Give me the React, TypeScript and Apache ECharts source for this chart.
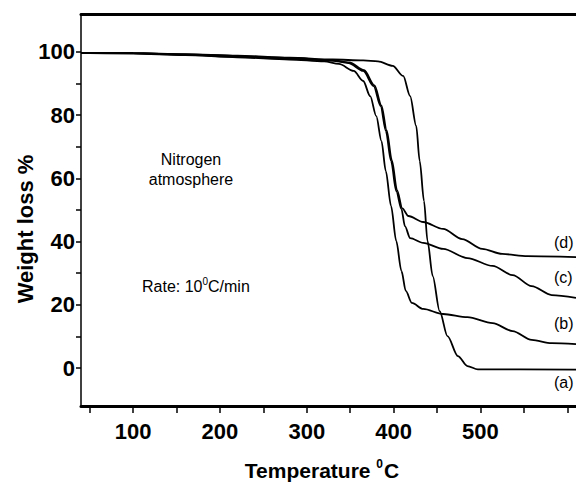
import React, { useEffect, useRef } from "react";
import * as echarts from "echarts";

// Temperature (°C) and weight (%), per curve
const tempA = [40, 100, 160, 220, 280, 330, 365, 382, 399, 411, 419, 426, 430, 435, 439, 445, 453, 462, 474, 485, 497, 610];
const weightA = [99.7, 99.6, 99.3, 98.8, 98.2, 97.6, 97.3, 97, 95.6, 92.4, 86, 76.6, 65.5, 52.8, 40.2, 29.1, 18, 10.1, 3.8, 0.6, -0.4, -0.5];

const tempB = [40, 100, 160, 220, 280, 320, 337, 354, 365, 373, 380, 386, 391, 397, 403, 409, 414, 421, 434, 457, 485, 514, 537, 559, 582, 610];
const weightB = [99.7, 99.5, 99, 98.3, 97.6, 97, 96.2, 94, 90.8, 86, 79.7, 71.8, 62.3, 51.3, 40.2, 30.7, 24.4, 20.6, 18.7, 17.1, 16.1, 14.2, 11.7, 8.9, 7.9, 7.6];

const tempC = [40, 100, 160, 220, 280, 330, 348, 365, 377, 385, 391, 397, 403, 409, 413, 419, 434, 457, 485, 514, 537, 559, 582, 610];
const weightC = [99.7, 99.6, 99.1, 98.5, 97.9, 97.2, 96.5, 94, 89.2, 82.9, 75, 65.5, 56, 50.3, 44.9, 41.1, 39.6, 37.7, 34.8, 32.3, 29.4, 25.9, 23.1, 22.2];

const tempD = [40, 100, 160, 220, 280, 330, 349, 366, 378, 386, 392, 398, 404, 410, 417, 434, 457, 479, 502, 525, 554, 610];
const weightD = [99.7, 99.6, 99.2, 98.7, 98.1, 97.4, 96.7, 94.2, 89.4, 83, 75.2, 65.7, 56.2, 50.5, 48.1, 46.2, 44, 40.8, 37.7, 36.1, 35.4, 35.1];

const curveNames = ["(a)", "(b)", "(c)", "(d)"];

const xLabelValues = [100, 200, 300, 400, 500];
const xTickValues = [50, 100, 150, 200, 250, 300, 350, 400, 450, 500, 550, 600];
const yLabelValues = [0, 20, 40, 60, 80, 100];
const yTickValues = [0, 10, 20, 30, 40, 50, 60, 70, 80, 90, 100];

const FONT = "'Liberation Sans', Arial, Helvetica, sans-serif";

function pairs(xs: number[], ys: number[]) {
  return xs.map((x, i) => [x, ys[i]]);
}

export default function App() {
  const ref = useRef<HTMLDivElement>(null);

  useEffect(() => {
    const chart = echarts.init(ref.current!, null, { renderer: "svg" });
    const curves = [
      pairs(tempA, weightA),
      pairs(tempB, weightB),
      pairs(tempC, weightC),
      pairs(tempD, weightD),
    ];
    const labelY = [382, 323, 277, 242];

    chart.setOption({
      animation: false,
      backgroundColor: "#ffffff",
      grid: { left: 81, top: 14, width: 499, height: 392, containLabel: false },
      xAxis: [
        {
          type: "value",
          min: 40,
          max: 610,
          position: "bottom",
          axisLine: { show: true, onZero: false, lineStyle: { color: "#000", width: 3 } },
          axisTick: {
            show: true,
            customValues: xTickValues,
            length: 7,
            inside: false,
            lineStyle: { color: "#000", width: 1.5 },
          },
          axisLabel: {
            customValues: xLabelValues,
            margin: 14,
            color: "#000",
            fontSize: 22,
            fontWeight: "bold",
            fontFamily: FONT,
          },
          splitLine: { show: false },
        },
        {
          type: "value",
          min: 40,
          max: 610,
          position: "top",
          axisLine: { show: true, onZero: false, lineStyle: { color: "#000", width: 3 } },
          axisTick: { show: false },
          axisLabel: { show: false },
          splitLine: { show: false },
        },
      ],
      yAxis: {
        type: "value",
        min: -12,
        max: 112,
        axisLine: { show: true, onZero: false, lineStyle: { color: "#000", width: 1.5 } },
        axisTick: {
          show: true,
          customValues: yTickValues,
          length: 5,
          lineStyle: { color: "#000", width: 1.5 },
        },
        axisLabel: {
          customValues: yLabelValues,
          margin: 6,
          color: "#000",
          fontSize: 22,
          fontWeight: "bold",
          fontFamily: FONT,
        },
        splitLine: { show: false },
      },
      series: curves.map((data, i) => ({
        name: curveNames[i],
        type: "line",
        xAxisIndex: 0,
        data,
        showSymbol: false,
        smooth: 0.3,
        smoothMonotone: "x",
        lineStyle: { color: "#000", width: 1.8 },
      })),
      graphic: [
        {
          type: "text",
          x: 25,
          y: 229,
          rotation: Math.PI / 2,
          style: {
            text: "Weight loss %",
            fill: "#000",
            font: `bold 22px ${FONT}`,
            align: "center",
            verticalAlign: "middle",
          },
        },
        {
          type: "text",
          x: 322,
          y: 470,
          style: {
            text: "{n|Temperature }{s|0}{n|C}",
            align: "center",
            verticalAlign: "middle",
            rich: {
              n: { fontSize: 21, fontWeight: "bold", fontFamily: FONT, fill: "#000" },
              s: { fontSize: 12, fontWeight: "bold", fontFamily: FONT, fill: "#000", padding: [0, 1, 12, 0] },
            },
          },
        },
        {
          type: "text",
          x: 191,
          y: 159,
          style: { text: "Nitrogen", fill: "#000", font: `16px ${FONT}`, align: "center", verticalAlign: "middle" },
        },
        {
          type: "text",
          x: 191,
          y: 179,
          style: { text: "atmosphere", fill: "#000", font: `16px ${FONT}`, align: "center", verticalAlign: "middle" },
        },
        {
          type: "text",
          x: 142,
          y: 286,
          style: {
            text: "{n|Rate: 10}{s|0}{n|C/min}",
            align: "left",
            verticalAlign: "middle",
            rich: {
              n: { fontSize: 16, fontFamily: FONT, fill: "#000" },
              s: { fontSize: 10, fontFamily: FONT, fill: "#000", padding: [0, 0, 9, 0] },
            },
          },
        },
        ...curveNames.map((name, i) => ({
          type: "text",
          x: 554,
          y: labelY[i],
          style: { text: name, fill: "#000", font: `16px ${FONT}`, align: "left", verticalAlign: "middle" },
        })),
      ],
    });

    return () => chart.dispose();
  }, []);

  return (
    <div
      ref={ref}
      style={{ position: "absolute", left: 0, top: 0, width: 576, height: 485, background: "#fff" }}
    />
  );
}
